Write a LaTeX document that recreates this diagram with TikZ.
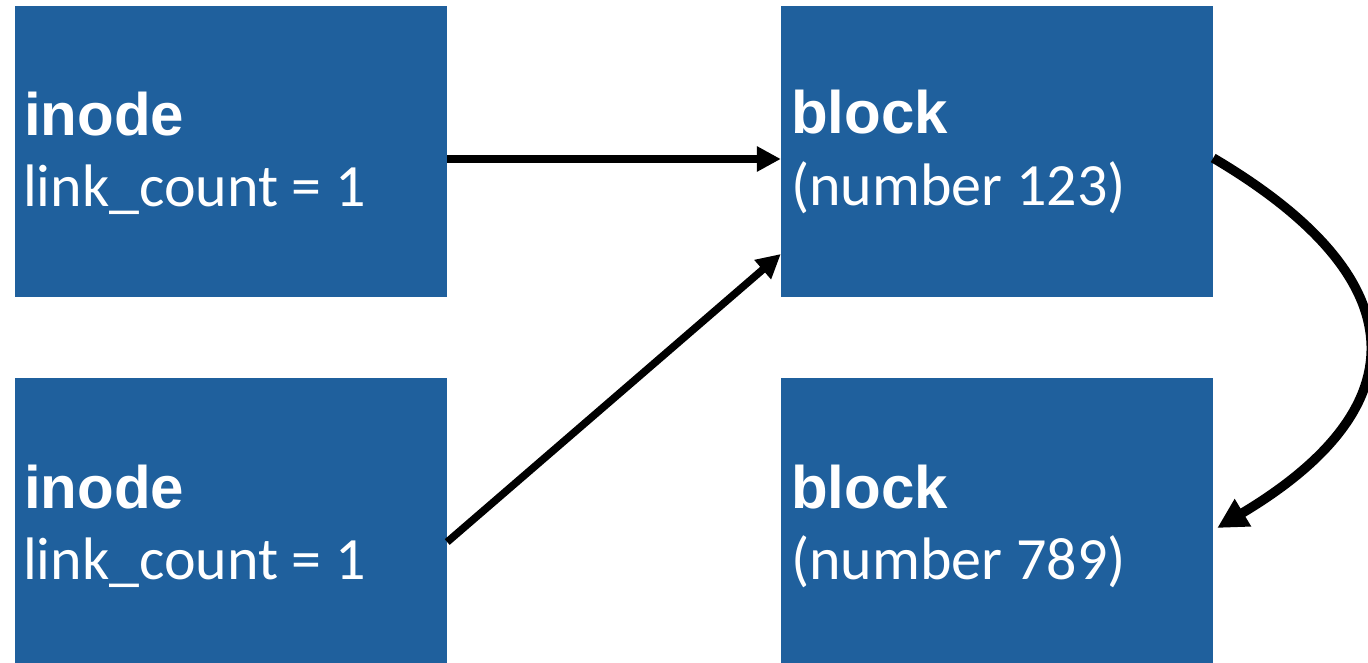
\documentclass[tikz,border=0pt]{standalone}
\usepackage{fontspec}
\usetikzlibrary{arrows.meta}
\newfontfamily\headfont{Liberation Sans}
\newfontfamily\bodyfont{Carlito}
\definecolor{boxblue}{RGB}{31,96,157}
\begin{document}
\begin{tikzpicture}[x=1pt,y=-1pt,
  cell/.style={fill=boxblue, draw=none, inner sep=0pt, minimum width=432pt},
  cellhi/.style={cell, minimum height=291pt},
  celllo/.style={cell, minimum height=285pt},
  title/.style={anchor=base west, inner sep=0pt, text=white,
    font=\headfont\bfseries\fontsize{60pt}{60pt}\selectfont},
  detail/.style={anchor=base west, inner sep=0pt, text=white,
    font=\bodyfont\fontsize{60pt}{60pt}\selectfont},
  link/.style={line width=7.5pt, -{Triangle[length=24pt,width=24pt]}},
  chain/.style={line width=9.5pt, -{Triangle[length=30pt,width=30pt]}}
]
\useasboundingbox (0,0) rectangle (1368,663);

% inodes
\node[cellhi] (in1) at (231,151.5) {};
\node[celllo] (in2) at (231,520.5) {};
% data blocks
\node[cellhi] (bl1) at (997,151.5) {};
\node[celllo] (bl2) at (997,520.5) {};

% labels
\node[title]  (in1h) at (24,136) {inode};
\node[detail] (in1d) at (23,207) {link\_count = 1};
\node[title]  (in2h) at (24,508) {inode};
\node[detail] (in2d) at (23,579) {link\_count = 1};
\node[title]  (bl1h) at (791,134) {block};
\node[detail] (bl1d) at (791,206) {(number 123)};
\node[title]  (bl2h) at (791,508) {block};
\node[detail] (bl2d) at (791,579) {(number 789)};

% pointers
\draw[link] ([yshift=-7.5pt]in1.east) -- ([yshift=-7.5pt]bl1.west);
\draw[link] ([yshift=-21.5pt]in2.east) -- ([yshift=-102.5pt]bl1.west);
\draw[chain] ([yshift=-6.5pt]bl1.east) .. controls (1418,279) and (1420,407) .. ([xshift=4pt,yshift=-7.5pt]bl2.east);
\end{tikzpicture}
\end{document}
